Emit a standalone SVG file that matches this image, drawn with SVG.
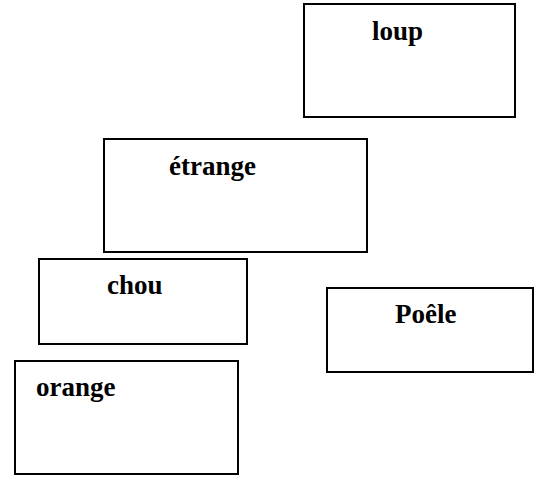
<svg xmlns="http://www.w3.org/2000/svg" width="537" height="477" viewBox="0 0 537 477">
<style>
.box{fill:#fff;stroke:#000;stroke-width:2}
.lbl{font-family:"Liberation Serif","Times New Roman",serif;font-weight:bold;font-size:27px;fill:#000}
</style>
<rect x="0" y="0" width="537" height="477" fill="#fff"/>
<g id="connectors"></g>
<g id="loup"><rect class="box" x="304" y="4" width="211" height="113"/><text class="lbl" x="372" y="40">loup</text></g>
<g id="etrange"><rect class="box" x="104" y="139" width="263" height="113"/><text class="lbl" x="169" y="175">étrange</text></g>
<g id="chou"><rect class="box" x="39" y="259" width="208" height="85"/><text class="lbl" x="107" y="294">chou</text></g>
<g id="orange"><rect class="box" x="15" y="361" width="223" height="113"/><text class="lbl" x="36" y="396">orange</text></g>
<g id="poele"><rect class="box" x="327" y="288" width="206" height="84"/><text class="lbl" x="395" y="323">Poêle</text></g>
</svg>
